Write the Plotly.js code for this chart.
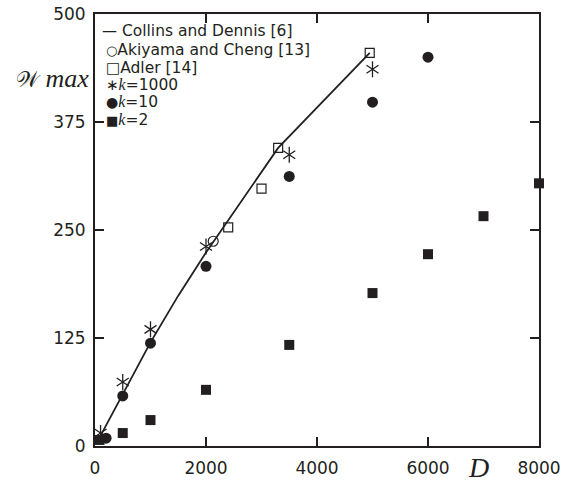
<!DOCTYPE html>
<html><head><meta charset="utf-8">
<script src="https://cdn.plot.ly/plotly-3.0.1.min.js"></script>
<style>body{margin:0;background:#fff}#chart{width:577px;height:483px}</style>
</head><body><div id="chart"></div>
<script>
// ---- data ----
const collinsD = [50, 100, 500, 1000, 1500, 2000, 3300, 4950];
const collinsW = [6, 12, 60, 120, 174, 224, 345, 455];
const akiyamaD = [2130];
const akiyamaW = [237];
const adlerD = [2400, 3000, 3300, 4950];
const adlerW = [253, 298, 345, 455];
const k1000D = [100, 500, 1000, 2000, 3500, 5000];
const k1000W = [15, 74, 135, 231, 337, 436];
const k10D = [200, 500, 1000, 2000, 3500, 5000, 6000];
const k10W = [9, 58, 119, 208, 312, 398, 450];
const k2D = [80, 500, 1000, 2000, 3500, 5000, 6000, 7000, 8000];
const k2W = [7, 15, 30, 65, 117, 177, 222, 266, 304];
const xTicks = [0, 2000, 4000, 6000, 8000];
const yTicks = [0, 125, 250, 375, 500];
const legendLabels = ['Collins and Dennis [6]', 'Akiyama and Cheng [13]', 'Adler [14]', 'k=1000', 'k=10', 'k=2'];
const legendSymbols = ['\u2014', '\u25CB', '\u25A1', '\u2217', '\u25CF', '\u25A0'];

// ---- layout helpers ----
const W = 577, H = 483;
const M = {l: 95, r: 38, t: 14, b: 37};
const pw = W - M.l - M.r, ph = H - M.t - M.b;
const px = x => (x - M.l) / pw;
const py = y => (H - M.b - y) / ph;
const INK = '#231f20';
const SANS = 'DejaVu Sans';
const SERIF = 'Liberation Serif';

const traces = [
  {x: collinsD, y: collinsW, mode: 'lines', line: {color: INK, width: 1.8}},
  {x: akiyamaD, y: akiyamaW, mode: 'markers', marker: {symbol: 'circle-open', size: 10, color: INK, line: {width: 1.2, color: INK}}},
  {x: adlerD, y: adlerW, mode: 'markers', marker: {symbol: 'square-open', size: 9, color: INK, line: {width: 1.2, color: INK}}},
  {x: k1000D, y: k1000W, mode: 'markers', marker: {symbol: 'y-up-open', size: 10, color: INK, line: {width: 1.3, color: INK}}},
  {x: k1000D, y: k1000W, mode: 'markers', marker: {symbol: 'y-down-open', size: 10, color: INK, line: {width: 1.3, color: INK}}},
  {x: k10D, y: k10W, mode: 'markers', marker: {symbol: 'circle', size: 11, color: INK}},
  {x: k2D, y: k2W, mode: 'markers', marker: {symbol: 'square', size: 10, color: INK}}
].map(t => Object.assign(t, {type: 'scatter', showlegend: false, cliponaxis: false, hoverinfo: 'skip'}));

const legendY = [31, 50, 68, 85, 102, 120];
const symSize = [15, 13, 15, 15, 14, 13];
const annotations = legendLabels.map((lab, i) => {
  const txt = lab.replace(/^k=/, '<span style="font-family:' + SERIF + ';font-size:16px"><i>k</i></span>=');
  return {
    xref: 'paper', yref: 'paper', x: px(i === 0 ? 100 : 104), y: py(legendY[i]),
    xanchor: 'left', yanchor: 'middle', showarrow: false,
    text: '<span style="font-size:' + symSize[i] + 'px">' + legendSymbols[i] + '</span>' + (i === 0 ? ' ' : '') + txt,
    font: {family: SANS, size: 15.5, color: INK}
  };
});
annotations.push({
  xref: 'paper', yref: 'paper', x: px(14), y: py(79), xanchor: 'left', yanchor: 'middle', showarrow: false,
  text: '<span style="font-family:DejaVu Serif;font-size:22px">\uD835\uDCB2</span> <i>max</i>',
  font: {family: SERIF, size: 26, color: INK}
});
annotations.push({
  xref: 'paper', yref: 'paper', x: px(478), y: py(467), xanchor: 'center', yanchor: 'middle', showarrow: false,
  text: '<i>D</i>', font: {family: SERIF, size: 28, color: INK}
});

const axisCommon = {
  showline: true, linecolor: INK, linewidth: 2, mirror: 'ticks',
  ticks: 'inside', ticklen: 9, tickwidth: 2, tickcolor: INK,
  showgrid: false, zeroline: false,
  tickfont: {family: SANS, size: 17, color: INK}
};
const layout = {
  width: W, height: H, margin: M,
  paper_bgcolor: '#fff', plot_bgcolor: '#fff',
  xaxis: Object.assign({}, axisCommon, {range: [0, 8000], tickvals: xTicks, ticktext: xTicks.map(String), ticklabelstandoff: 6}),
  yaxis: Object.assign({}, axisCommon, {range: [0, 500], tickvals: yTicks, ticktext: yTicks.map(String), ticklabelstandoff: 4}),
  annotations: annotations,
  showlegend: false
};
Plotly.newPlot('chart', traces, layout, {staticPlot: true});
</script>
</body></html>
